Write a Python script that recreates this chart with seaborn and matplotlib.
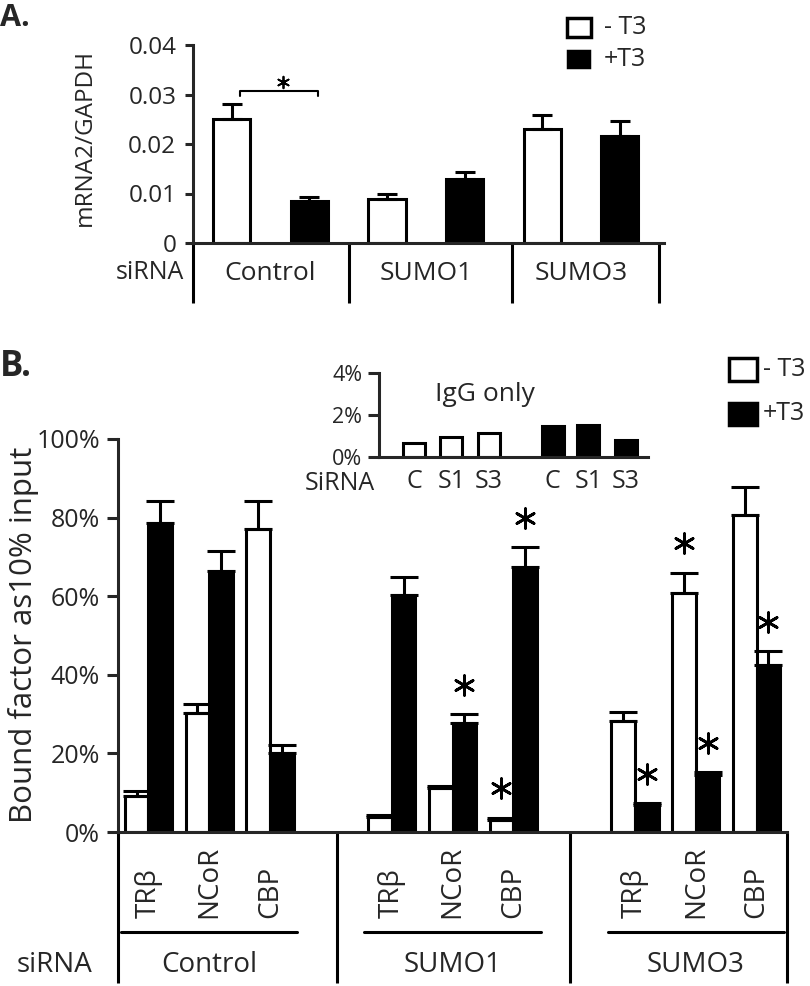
import numpy as np
import pandas as pd
import matplotlib.pyplot as plt
from matplotlib.patches import Rectangle
import seaborn as sns

# Panel A: mRNA2/GAPDH
a_groups = ['Control', 'SUMO1', 'SUMO3']
a_treat = ['- T3', '+T3', '- T3', '+T3', '- T3', '+T3']
a_pos = [0, 1, 2, 3, 4, 5]
a_mean = [0.0251, 0.0084, 0.0089, 0.0129, 0.0231, 0.0217]
a_top = [0.0280, 0.0093, 0.0099, 0.0143, 0.0258, 0.0247]
a_yticks = [0, 0.01, 0.02, 0.03, 0.04]
a_yticklabels = ['0', '0.01', '0.02', '0.03', '0.04']

# Panel B: bound factor (ChIP)
b_groups = ['Control', 'SUMO1', 'SUMO3']
b_factors = ['TRβ', 'NCoR', 'CBP']
b_pair_pos = [0, 1, 2, 4, 5, 6, 8, 9, 10]
b_minus = [9.2, 30.3, 77.1, 3.8, 11.2, 3.1, 28.2, 60.8, 80.7]
b_minus_top = [10.5, 32.6, 84.2, 4.2, 11.6, 3.6, 30.6, 66.0, 87.8]
b_plus = [78.6, 66.4, 20.1, 60.3, 27.7, 67.4, 6.9, 14.5, 42.5]
b_plus_top = [84.2, 71.5, 22.1, 64.9, 30.0, 72.5, 7.3, 15.2, 46.0]
b_minus_star = [False, False, False, False, False, True, False, True, False]
b_plus_star = [False, False, False, False, True, True, True, True, True]

# Inset: IgG only
igg_labels = ['C', 'S1', 'S3', 'C', 'S1', 'S3']
igg_pos = [0, 1, 2, 3.7, 4.65, 5.65]
igg_vals = [0.68, 0.97, 1.16, 1.49, 1.52, 0.81]
igg_treat = ['- T3', '- T3', '- T3', '+T3', '+T3', '+T3']

pal = {'- T3': 'white', '+T3': 'black'}
LW = 2.2

sns.set_style('ticks')
plt.rcParams['font.family'] = ['Open Sans', 'DejaVu Sans']
plt.rcParams['axes.linewidth'] = LW

W, H = 810, 986
fig = plt.figure(figsize=(W / 100, H / 100), dpi=100)


def box(l, t, r, b):
    return [l / W, 1 - b / H, (r - l) / W, (b - t) / H]


def ftext(x, y, s, **kw):
    fig.text(x / W, 1 - y / H, s, **kw)


def frect(l, t, r, b, fc):
    fig.add_artist(Rectangle((l / W, 1 - b / H), (r - l) / W, (b - t) / H,
                             transform=fig.transFigure, facecolor=fc,
                             edgecolor='black', linewidth=2.5))


ax_a = fig.add_axes(box(193, 45, 664, 243))
ax_b = fig.add_axes(box(118, 439, 787, 832))
ax_i = fig.add_axes(box(379, 373, 648, 457))

# ---- Panel A
df_a = pd.DataFrame({'pos': a_pos, 'value': a_mean, 'treat': a_treat})
sns.barplot(data=df_a, x='pos', y='value', hue='treat', hue_order=['- T3', '+T3'],
            palette=pal, native_scale=True, dodge=False, width=0.48,
            edgecolor='black', linewidth=LW, errorbar=None, legend=False, ax=ax_a)
ax_a.errorbar(a_pos, a_mean, yerr=[np.zeros(6), np.array(a_top) - np.array(a_mean)],
              fmt='none', ecolor='black', elinewidth=LW, capsize=7, capthick=LW, zorder=3)
ax_a.set_xlim(-0.5, 5.57)
ax_a.set_ylim(0, 0.04)
ax_a.set_yticks(a_yticks)
ax_a.set_yticklabels(a_yticklabels)
ax_a.set_xticks([])
ax_a.set_xlabel('')
sns.despine(ax=ax_a)
ax_a.tick_params(axis='y', length=6, width=LW, labelsize=17.5, pad=6)
for xv in [-0.5, 1.51, 3.61, 5.5]:
    ax_a.plot([xv, xv], [0, -60 / 198], transform=ax_a.get_xaxis_transform(),
              clip_on=False, color='black', lw=LW, solid_capstyle='butt')
for i, g in enumerate(a_groups):
    ax_a.text(np.mean(a_pos[2 * i:2 * i + 2]), -30 / 198, g, transform=ax_a.get_xaxis_transform(),
              ha='center', va='center', fontsize=19)
ftext(150, 273, 'siRNA', ha='center', va='center', fontsize=18)
# significance bracket
ax_a.plot([0.1, 0.1, 1.11, 1.11], [0.0297, 0.0307, 0.0307, 0.0297], color='black', lw=1.5)
ax_a.scatter([np.mean(a_pos[0:2]) + 0.16], [0.0325], marker=(6, 2, 0), s=70,
             color='black', linewidths=1.3)
ax_a.set_ylabel('mRNA2/GAPDH', fontsize=17.5)
ax_a.yaxis.set_label_coords((97 - 193) / 471, (243 - 137) / 198)

# legend A
frect(567, 18, 591, 37, 'white')
frect(568, 51, 589, 67, 'black')
ftext(604, 27, '- T3', ha='left', va='center', fontsize=18)
ftext(604, 60, '+T3', ha='left', va='center', fontsize=18)
ftext(0, 18, 'A.', ha='left', va='center', fontsize=22, fontweight='bold')

# ---- Panel B
off = 0.78 / 4
df_b = pd.DataFrame({'pos': b_pair_pos * 2,
                     'value': b_minus + b_plus,
                     'treat': ['- T3'] * 9 + ['+T3'] * 9})
sns.barplot(data=df_b, x='pos', y='value', hue='treat', hue_order=['- T3', '+T3'],
            palette=pal, native_scale=True, dodge=True, width=0.78,
            edgecolor='black', linewidth=LW, errorbar=None, legend=False, ax=ax_b)
xm = np.array(b_pair_pos) - off
xp = np.array(b_pair_pos) + off
ax_b.errorbar(xm, b_minus, yerr=[np.zeros(9), np.array(b_minus_top) - np.array(b_minus)],
              fmt='none', ecolor='black', elinewidth=LW, capsize=10, capthick=LW, zorder=3)
ax_b.errorbar(xp, b_plus, yerr=[np.zeros(9), np.array(b_plus_top) - np.array(b_plus)],
              fmt='none', ecolor='black', elinewidth=LW, capsize=10, capthick=LW, zorder=3)
star_x = list(xm[b_minus_star]) + list(xp[b_plus_star])
star_y = list(np.array(b_minus_top)[b_minus_star] + 7.5) + list(np.array(b_plus_top)[b_plus_star] + 7.5)
ax_b.scatter(star_x, star_y, marker=(6, 2, 0), s=200, color='black', linewidths=2, zorder=4)

ax_b.set_xlim(-0.5, 10.5)
ax_b.set_ylim(0, 100)
ax_b.set_yticks([0, 20, 40, 60, 80, 100])
ax_b.set_yticklabels([f'{v}%' for v in [0, 20, 40, 60, 80, 100]])
ax_b.set_xticks([])
ax_b.set_xlabel('')
ax_b.set_ylabel('')
sns.despine(ax=ax_b)
ax_b.tick_params(axis='y', length=8, width=LW, labelsize=18, pad=5)
for xv in [-0.5, 3.1, 6.93, 10.5]:
    ax_b.plot([xv, xv], [0, -151 / 393], transform=ax_b.get_xaxis_transform(),
              clip_on=False, color='black', lw=LW, solid_capstyle='butt')
tr = ax_b.get_xaxis_transform()
for i, g in enumerate(b_groups):
    pp = b_pair_pos[3 * i:3 * i + 3]
    for p, f in zip(pp, b_factors):
        ax_b.text(p, -86 / 393, f, transform=tr, rotation=90, ha='center', va='bottom', fontsize=20)
    ax_b.plot([pp[0] - 0.45, pp[-1] + 0.45], [-100 / 393, -100 / 393], transform=tr,
              clip_on=False, color='black', lw=LW)
    ax_b.text(pp[1], -133 / 393, g, transform=tr, ha='center', va='center', fontsize=20)
ftext(55, 965, 'siRNA', ha='center', va='center', fontsize=20)
ftext(24, 635, 'Bound factor as10% input', rotation=90, ha='center', va='center', fontsize=22.5)
ftext(0, 367, 'B.', ha='left', va='center', fontsize=25, fontweight='bold')

# legend B
frect(729, 358, 757, 381, 'white')
frect(729, 403, 757, 425, 'black')
ftext(763, 370, '- T3', ha='left', va='center', fontsize=18)
ftext(763, 414, '+T3', ha='left', va='center', fontsize=18)

# ---- Inset
df_i = pd.DataFrame({'pos': igg_pos, 'value': igg_vals, 'treat': igg_treat})
sns.barplot(data=df_i, x='pos', y='value', hue='treat', hue_order=['- T3', '+T3'],
            palette=pal, native_scale=True, dodge=False, width=0.62,
            edgecolor='black', linewidth=LW, errorbar=None, legend=False, ax=ax_i)
ax_i.set_facecolor('none')
ax_i.set_xlim(-0.93, 6.24)
ax_i.set_ylim(0, 4)
ax_i.set_yticks([0, 2, 4])
ax_i.set_yticklabels(['0%', '2%', '4%'])
ax_i.set_xticks([])
ax_i.set_xlabel('')
ax_i.set_ylabel('')
sns.despine(ax=ax_i)
ax_i.tick_params(axis='y', length=8, width=LW, labelsize=15.5, pad=4)
for p, lab in zip(igg_pos, igg_labels):
    ax_i.text(p, -25 / 84, lab, transform=ax_i.get_xaxis_transform(),
              ha='center', va='center', fontsize=18)
ftext(340, 483, 'SiRNA', ha='center', va='center', fontsize=18)
ftext(485, 395, 'IgG only', ha='center', va='center', fontsize=19)

fig.savefig('out.png', dpi=100)
